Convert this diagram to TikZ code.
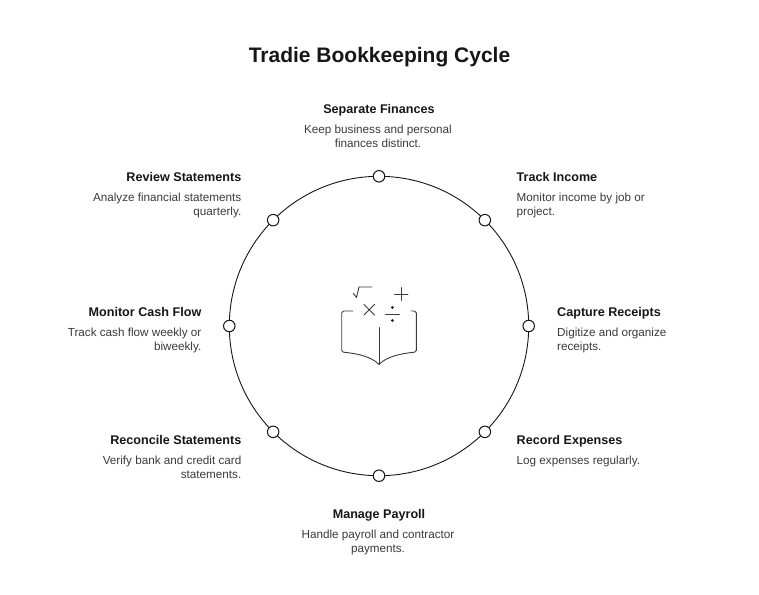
\documentclass[tikz,border=0pt]{standalone}
\usepackage{fontspec}
\setmainfont{Liberation Sans}
\usetikzlibrary{positioning,calc}
\definecolor{inkdark}{HTML}{161616}
\definecolor{inktext}{HTML}{3A3A3A}
\tikzset{
  dot/.style = {circle,draw=inkdark,fill=white,line width=1pt,minimum size=11.5pt,inner sep=0pt},
  head/.style = {font=\fontsize{12.6}{15}\selectfont\bfseries,text=inkdark,inner sep=0pt},
  headl/.style = {head,anchor=north east},
  headr/.style = {head,anchor=north west},
  headc/.style = {head,anchor=north},
  descl/.style = {font=\fontsize{11.7}{13.8}\selectfont,text=inktext,inner sep=0pt,anchor=north east,align=right},
  descr/.style = {font=\fontsize{11.7}{13.8}\selectfont,text=inktext,inner sep=0pt,anchor=north west,align=left},
  descc/.style = {font=\fontsize{11.7}{13.8}\selectfont,text=inktext,inner sep=0pt,anchor=north,align=center},
  icon/.style = {draw=inktext,line width=.9pt,line cap=round,line join=round}
}
\begin{document}
\begin{tikzpicture}[x=1pt,y=-1pt]
  \useasboundingbox (0,0) rectangle (759,594);
  \node[font=\fontsize{21}{26}\selectfont\bfseries,text=inkdark,inner sep=0pt] (title) at (379.5,57.5) {Tradie Bookkeeping Cycle};
  % ring and dots
  \coordinate (center) at (379,326);
  \draw[inkdark,line width=.9pt] (center) circle (149.7);
  \foreach \name/\ang in {sep/90,track/45,capture/0,record/-45,payroll/-90,reconcile/-135,monitor/180,review/135}
    \node[dot] (\name) at ($(379,326)+({149.7*cos(\ang)},{-149.7*sin(\ang)})$) {};
  % labels
  \node[headc] (septitle) at (379,104) {Separate Finances};
  \node[descc] (septext) at (378,125) {Keep business and personal\\finances distinct.};
  \node[headr] (tracktitle) at (516.5,172) {Track Income};
  \node[descr] (tracktext) at (516.5,193) {Monitor income by job or\\project.};
  \node[headr] (capturetitle) at (557,307) {Capture Receipts};
  \node[descr] (capturetext) at (557,328) {Digitize and organize\\receipts.};
  \node[headr] (recordtitle) at (516.5,435) {Record Expenses};
  \node[descr] (recordtext) at (516.5,456) {Log expenses regularly.};
  \node[headc] (payrolltitle) at (379,509) {Manage Payroll};
  \node[descc] (payrolltext) at (378,530) {Handle payroll and contractor\\payments.};
  \node[headl] (reconciletitle) at (241.5,435) {Reconcile Statements};
  \node[descl] (reconciletext) at (241.5,456) {Verify bank and credit card\\statements.};
  \node[headl] (monitortitle) at (201.5,307) {Monitor Cash Flow};
  \node[descl] (monitortext) at (201.5,328) {Track cash flow weekly or\\biweekly.};
  \node[headl] (reviewtitle) at (241.5,172) {Review Statements};
  \node[descl] (reviewtext) at (241.5,193) {Analyze financial statements\\quarterly.};
  % book icon
  \draw[icon] (353,311) -- (343.5,311) .. controls (342.3,311) and (341.7,311.6) .. (341.7,312.8) -- (341.7,350.5)
    .. controls (341.7,351.6) and (342.3,352) .. (343.5,352.2) .. controls (358,353.5) and (372,357) .. (379,364.5)
    .. controls (386,357) and (400,353.5) .. (414.5,352.2) .. controls (415.7,352) and (416.3,351.6) .. (416.3,350.5)
    -- (416.3,312.8) .. controls (416.3,311.6) and (415.7,311) .. (414.5,311) -- (411,311);
  \draw[icon] (379,327.5) -- (379,364.5);
  \draw[icon] (353.5,293.5) -- (356.5,297.5) -- (359,287) -- (372,287);
  \draw[icon] (394.5,294) -- (408,294) (401,287.5) -- (401,300.5);
  \draw[icon] (364,304.5) -- (374.5,315) (374.5,304.5) -- (364,315);
  \draw[icon] (385.5,314) -- (399.5,314);
  \fill[inkdark] (392.3,307.5) circle (1.5) (392.3,320.5) circle (1.5);
\end{tikzpicture}
\end{document}
